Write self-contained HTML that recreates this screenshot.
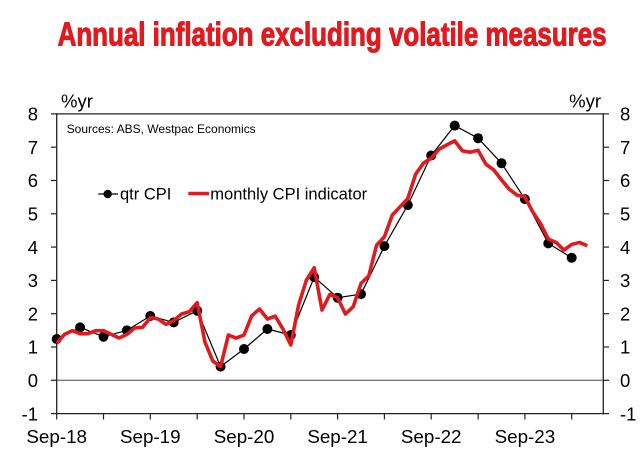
<!DOCTYPE html>
<html>
<head>
<meta charset="utf-8">
<style>
  html, body { margin: 0; padding: 0; background: #ffffff; }
  svg { display: block; }
  text { font-family: "Liberation Sans", Arial, sans-serif; fill: #000; }
</style>
</head>
<body>
<svg width="642" height="453" viewBox="0 0 642 453" xmlns="http://www.w3.org/2000/svg">
  <rect x="0" y="0" width="642" height="453" fill="#ffffff"/>

  <!-- Title -->
  <text x="57.6" y="45.7" font-size="33" font-weight="bold" textLength="549" lengthAdjust="spacingAndGlyphs"
        style="fill:#e01b1f; stroke:#e01b1f; stroke-width:1.1; stroke-linejoin:round; font-family:'Liberation Sans Narrow','Liberation Sans',Arial,sans-serif;">Annual inflation excluding volatile measures</text>

  <!-- %yr labels -->
  <text x="61" y="107.5" font-size="18.5">%yr</text>
  <text x="601" y="107.5" font-size="18.5" text-anchor="end">%yr</text>

  <!-- Zero line -->
  <line x1="56.7" y1="380.3" x2="603.3" y2="380.3" stroke="#7a7a7a" stroke-width="1.4"/>

  <!-- Frame -->
  <line x1="56.7" y1="113.9" x2="603.3" y2="113.9" stroke="#222" stroke-width="1.2"/>
  <line x1="56.7" y1="113.3" x2="56.7" y2="414.2" stroke="#222" stroke-width="1.3"/>
  <line x1="603.3" y1="113.3" x2="603.3" y2="414.2" stroke="#222" stroke-width="1.3"/>
  <line x1="56.7" y1="413.6" x2="603.3" y2="413.6" stroke="#222" stroke-width="1.3"/>

  <!-- Left ticks -->
  <g stroke="#222" stroke-width="1.2">
    <line x1="51" y1="113.9" x2="56.7" y2="113.9"/>
    <line x1="51" y1="147.2" x2="56.7" y2="147.2"/>
    <line x1="51" y1="180.5" x2="56.7" y2="180.5"/>
    <line x1="51" y1="213.8" x2="56.7" y2="213.8"/>
    <line x1="51" y1="247.1" x2="56.7" y2="247.1"/>
    <line x1="51" y1="280.4" x2="56.7" y2="280.4"/>
    <line x1="51" y1="313.7" x2="56.7" y2="313.7"/>
    <line x1="51" y1="347.0" x2="56.7" y2="347.0"/>
    <line x1="51" y1="380.3" x2="56.7" y2="380.3"/>
    <line x1="51" y1="413.6" x2="56.7" y2="413.6"/>
  </g>
  <!-- Right ticks -->
  <g stroke="#222" stroke-width="1.2">
    <line x1="603.3" y1="113.9" x2="609" y2="113.9"/>
    <line x1="603.3" y1="147.2" x2="609" y2="147.2"/>
    <line x1="603.3" y1="180.5" x2="609" y2="180.5"/>
    <line x1="603.3" y1="213.8" x2="609" y2="213.8"/>
    <line x1="603.3" y1="247.1" x2="609" y2="247.1"/>
    <line x1="603.3" y1="280.4" x2="609" y2="280.4"/>
    <line x1="603.3" y1="313.7" x2="609" y2="313.7"/>
    <line x1="603.3" y1="347.0" x2="609" y2="347.0"/>
    <line x1="603.3" y1="380.3" x2="609" y2="380.3"/>
    <line x1="603.3" y1="413.6" x2="609" y2="413.6"/>
  </g>
  <!-- Bottom ticks -->
  <g stroke="#222" stroke-width="1.2">
    <line x1="56.7" y1="413.6" x2="56.7" y2="419.5"/>
    <line x1="103.5" y1="413.6" x2="103.5" y2="419.5"/>
    <line x1="150.3" y1="413.6" x2="150.3" y2="419.5"/>
    <line x1="197.2" y1="413.6" x2="197.2" y2="419.5"/>
    <line x1="244.0" y1="413.6" x2="244.0" y2="419.5"/>
    <line x1="290.8" y1="413.6" x2="290.8" y2="419.5"/>
    <line x1="337.6" y1="413.6" x2="337.6" y2="419.5"/>
    <line x1="384.4" y1="413.6" x2="384.4" y2="419.5"/>
    <line x1="431.2" y1="413.6" x2="431.2" y2="419.5"/>
    <line x1="478.1" y1="413.6" x2="478.1" y2="419.5"/>
    <line x1="524.9" y1="413.6" x2="524.9" y2="419.5"/>
    <line x1="571.7" y1="413.6" x2="571.7" y2="419.5"/>
  </g>

  <!-- Left y labels -->
  <g font-size="18.5" text-anchor="end">
    <text x="38" y="120.6">8</text>
    <text x="38" y="153.9">7</text>
    <text x="38" y="187.2">6</text>
    <text x="38" y="220.5">5</text>
    <text x="38" y="253.8">4</text>
    <text x="38" y="287.1">3</text>
    <text x="38" y="320.4">2</text>
    <text x="38" y="353.7">1</text>
    <text x="38" y="387.0">0</text>
    <text x="38" y="420.3">-1</text>
  </g>
  <!-- Right y labels -->
  <g font-size="18.5" text-anchor="start">
    <text x="620" y="120.6">8</text>
    <text x="620" y="153.9">7</text>
    <text x="620" y="187.2">6</text>
    <text x="620" y="220.5">5</text>
    <text x="620" y="253.8">4</text>
    <text x="620" y="287.1">3</text>
    <text x="620" y="320.4">2</text>
    <text x="620" y="353.7">1</text>
    <text x="620" y="387.0">0</text>
    <text x="620" y="420.3">-1</text>
  </g>

  <!-- X labels -->
  <g font-size="18.8" text-anchor="middle">
    <text x="56.7" y="443">Sep-18</text>
    <text x="150.3" y="443">Sep-19</text>
    <text x="244.0" y="443">Sep-20</text>
    <text x="337.6" y="443">Sep-21</text>
    <text x="431.2" y="443">Sep-22</text>
    <text x="524.9" y="443">Sep-23</text>
  </g>

  <!-- Sources -->
  <text x="66.7" y="133" font-size="12" textLength="189" lengthAdjust="spacingAndGlyphs">Sources: ABS, Westpac Economics</text>

  <!-- Legend -->
  <line x1="98.3" y1="194" x2="118" y2="194" stroke="#000" stroke-width="1.3"/>
  <circle cx="107.7" cy="194" r="4.2" fill="#000"/>
  <text x="120" y="199.5" font-size="16.5">qtr CPI</text>
  <line x1="188.3" y1="193.5" x2="209" y2="193.5" stroke="#e01b1f" stroke-width="3.6"/>
  <text x="210.3" y="199.5" font-size="16.5">monthly CPI indicator</text>

  <!-- Quarterly CPI line -->
  <polyline fill="none" stroke="#000" stroke-width="1.2" stroke-linejoin="round"
    points="56.7,339.0 80.1,327.4 103.5,336.7 126.9,330.4 150.3,316.0 173.7,322.4 197.2,310.7 220.6,366.6 244.0,349.0 267.4,329.0 290.8,335.0 314.2,277.1 337.6,297.7 361.0,294.1 384.4,246.1 407.8,205.1 431.2,155.5 454.7,125.6 478.1,138.2 501.5,163.2 524.9,199.1 548.3,243.4 571.7,257.8"/>
  <!-- Quarterly dots -->
  <g fill="#000">
    <circle cx="56.7" cy="339.0" r="5"/>
    <circle cx="80.1" cy="327.4" r="5"/>
    <circle cx="103.5" cy="336.7" r="5"/>
    <circle cx="126.9" cy="330.4" r="5"/>
    <circle cx="150.3" cy="316.0" r="5"/>
    <circle cx="173.7" cy="322.4" r="5"/>
    <circle cx="197.2" cy="310.7" r="5"/>
    <circle cx="220.6" cy="366.6" r="5"/>
    <circle cx="244.0" cy="349.0" r="5"/>
    <circle cx="267.4" cy="329.0" r="5"/>
    <circle cx="290.8" cy="335.0" r="5"/>
    <circle cx="314.2" cy="277.1" r="5"/>
    <circle cx="337.6" cy="297.7" r="5"/>
    <circle cx="361.0" cy="294.1" r="5"/>
    <circle cx="384.4" cy="246.1" r="5"/>
    <circle cx="407.8" cy="205.1" r="5"/>
    <circle cx="431.2" cy="155.5" r="5"/>
    <circle cx="454.7" cy="125.6" r="5"/>
    <circle cx="478.1" cy="138.2" r="5"/>
    <circle cx="501.5" cy="163.2" r="5"/>
    <circle cx="524.9" cy="199.1" r="5"/>
    <circle cx="548.3" cy="243.4" r="5"/>
    <circle cx="571.7" cy="257.8" r="5"/>
  </g>

  <!-- Monthly CPI indicator (data coords: month index, value) -->
  <g transform="translate(56.7,380.3) scale(7.803,-33.3)">
    <polyline fill="none" stroke="#e01b1f" stroke-width="3.6" stroke-linejoin="round" stroke-linecap="butt"
      vector-effect="non-scaling-stroke"
      points="0,1.11 1,1.38 2,1.49 3,1.40 4,1.40 5,1.49 6,1.49 7,1.38 8,1.27 9,1.38 10,1.57 11,1.59 12,1.88 13,1.84 14,1.68 15,1.79 16,1.99 17,2.06 18,2.33 19,1.15 20,0.58 21,0.41 22,1.36 23,1.27 24,1.36 25,1.94 26,2.14 27,1.84 28,1.93 29,1.54 30,1.06 31,2.26 32,3.01 33,3.38 34,2.11 35,2.58 36,2.48 37,1.99 38,2.21 39,2.91 40,3.14 41,4.06 42,4.31 43,4.96 44,5.21 45,5.46 46,6.19 47,6.52 48,6.67 49,6.94 50,7.07 51,7.19 52,6.89 53,6.85 54,6.91 55,6.49 56,6.32 57,6.02 58,5.74 59,5.56 60,5.51 61,5.06 62,4.71 63,4.24 64,4.14 65,3.91 66,4.08 67,4.14 68,4.04"/>
  </g>
</svg>
</body>
</html>
